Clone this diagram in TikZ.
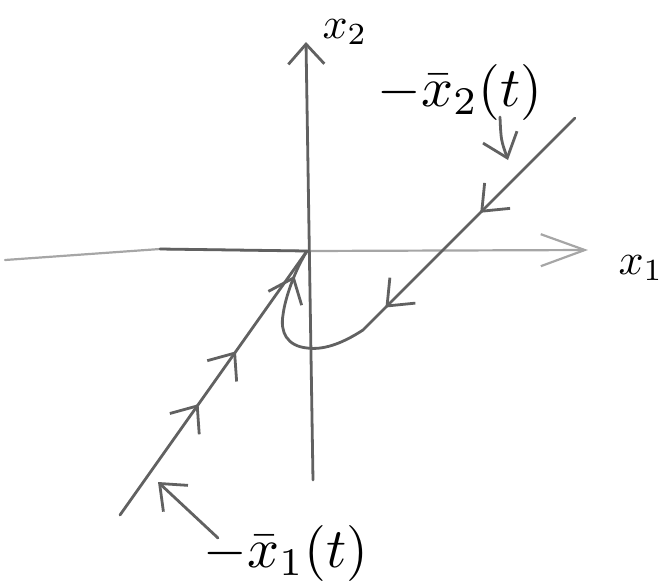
\documentclass[tikz,border=0pt]{standalone}
\usepackage{graphicx}
\usetikzlibrary{arrows.meta,decorations.markings,positioning}
\newcommand{\xb}{\bar{x}}
\newcommand{\bigtxt}[1]{\scalebox{2.8}{#1}}
\newcommand{\axtxt}[1]{\scalebox{2.2}{#1}}
\tikzset{
  pencil/.style={draw=black!62, line width=1.4pt, line cap=round, line join=round},
  faint/.style={draw=black!35, line width=1.1pt, line cap=round},
  barb/.tip={Straight Barb[length=11pt,width=18pt,line width=1.4pt]},
  twoarrows/.style 2 args={postaction={decorate}, decoration={markings,
    mark=at position #1 with {\arrow{barb}},
    mark=at position #2 with {\arrow{barb}}}},
}

\begin{document}
\begin{tikzpicture}[x=0.5pt,y=-0.5pt]
\useasboundingbox (0,0) rectangle (666,586);
% axes
\coordinate (O) at (307,251);
\coordinate (h0) at (5,260);
\coordinate (h1) at (160,249);
\coordinate (h2) at (588,250);
\coordinate (v0) at (313,480);
\coordinate (v1) at (306,42);
\draw[faint, -{Straight Barb[length=22pt,width=16pt,line width=1.1pt]}] (h0) -- (h1) -- (O) -- (h2);
\draw[pencil] (h1) -- (O);
\draw[pencil, -{Straight Barb[length=10pt,width=18pt,line width=1.4pt]}] (v0) -- (v1);
\draw(641,268) node (xone) {\axtxt{$x_1$}};
\draw(345,32) node (xtwo) {\axtxt{$x_2$}};
% trajectory coming in along the stable line
\coordinate (a0) at (120,515);
\draw[pencil, twoarrows={0.42}{0.62}] (a0) -- (O);
% trajectory coming from the upper right and turning back
\coordinate (b0) at (575,118);
\coordinate (b1) at (363,330);
\draw[pencil, postaction={decorate}, decoration={markings,
    mark=at position 67pt with {\arrow{barb}},
    mark=at position 134pt with {\arrow{barb}},
    mark=at position -14pt with {\arrow{barb}}}]
  (b0) -- (b1) .. controls (340,345) and (322,350) .. (307,348)
  .. controls (287,346) and (280,332) .. (283,315)
  .. controls (285,298) and (295,270) .. (O);
% labels
\draw(460,92) node (lbtwo) {\bigtxt{$-\xb_2(t)$}};
\draw(286,553) node (lbone) {\bigtxt{$-\xb_1(t)$}};
\coordinate (p2) at (508,160);
\coordinate (q2) at (500,117);
\coordinate (p1) at (158,482);
\coordinate (q1) at (218,538);
\draw[pencil, -{barb}] (q2) .. controls (501,140) .. (p2);
\draw[pencil, -{barb}] (q1) -- (p1);
\end{tikzpicture}
\end{document}
